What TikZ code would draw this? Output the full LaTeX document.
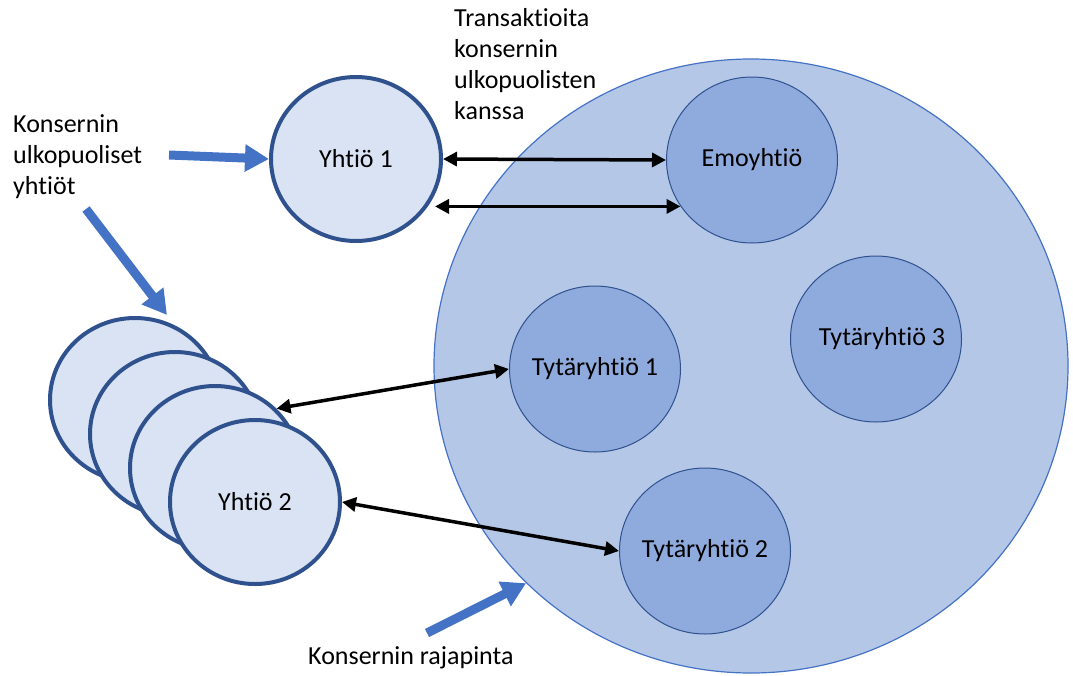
\documentclass[tikz,border=0pt]{standalone}
\usepackage{fontspec}
\setmainfont{Carlito}[Ligatures=NoCommon]
\usetikzlibrary{shapes.geometric,arrows.meta}

\definecolor{grpfill}{HTML}{B4C7E7}
\definecolor{grpline}{HTML}{4472C4}
\definecolor{subfill}{HTML}{8FAADC}
\definecolor{subline}{HTML}{2F528F}
\definecolor{extfill}{HTML}{DAE3F3}
\definecolor{extline}{HTML}{2F528F}
\definecolor{ptrblue}{HTML}{4472C4}

% a name set over its node without widening the ellipse
\newcommand{\ctrtext}[1]{\makebox[0pt]{#1}}

\begin{document}
\begin{tikzpicture}[x=1pt,y=-1pt,
  txt/.style={font=\fontsize{26}{31}\selectfont},
  group/.style={ellipse, draw=grpline, line width=1.2pt, fill=grpfill,
    minimum width=634pt, minimum height=614pt, inner sep=0pt},
  sub/.style={ellipse, draw=subline, line width=1pt, fill=subfill,
    minimum width=171pt, minimum height=166pt, inner sep=0pt, txt},
  ext/.style={ellipse, draw=extline, line width=4pt, fill=extfill,
    minimum width=170pt, minimum height=164pt, inner sep=0pt, txt},
  flow/.style={line width=3.5pt,
    {Triangle[length=14pt,width=14pt]}-{Triangle[length=14pt,width=14pt]}},
  hint/.style={line width=9pt, draw=ptrblue, fill=ptrblue,
    -{Triangle[length=24pt,width=26pt]}},
  label/.style={txt, inner sep=0pt, align=left, anchor=base west}]

\useasboundingbox (0,0) rectangle (1073,675);

% the group boundary and its members
\node[group] (grp) at (751,366) {};
\node[sub] (emo) at (752,160) {\ctrtext{Emoyhtiö}};
\node[sub] (ty1) at (595,369) {\ctrtext{Tytäryhtiö 1}};
\node[sub] (ty3) at (876,339) {\hspace*{12pt}\ctrtext{Tytäryhtiö 3}};
\node[sub] (ty2) at (705,551) {\ctrtext{Tytäryhtiö 2}};

% outside companies
\node[ext] (yh1) at (356,159) {\ctrtext{Yhtiö 1}};
\node[ext] (ea) at (135,400) {};
\node[ext] (eb) at (175,434) {};
\node[ext] (ec) at (215,468) {};
\node[ext] (yh2) at (255,502) {\ctrtext{Yhtiö 2}};

% captions (base anchor sits on the last line)
\node[label] (capout) at (13,194) {Konsernin\\ulkopuoliset\\yhtiöt};
\node[label] (captx) at (454,119) {Transaktioita\\konsernin\\ulkopuolisten\\kanssa};
\node[label] (capedge) at (308,664) {Konsernin rajapinta};

% transactions
\draw[flow] (yh1.east) -- (emo.west);
\draw[flow] ([xshift=-8pt] emo.213 -| yh1.east) -- (emo.213);
\draw[flow] (ec.44) -- (ty1.west);
\draw[flow] (yh2.east) -- (ty2.west);

% pointers from the captions
\coordinate (p1) at (169,155);
\coordinate (p2) at (86,209);
\coordinate (p2e) at (167,315);
\coordinate (p3) at (427,633);
\draw[hint] (p1) -- (yh1.west);
\draw[hint] (p2) -- (p2e);
\draw[hint] (p3) -- (grp.224);
\end{tikzpicture}
\end{document}
